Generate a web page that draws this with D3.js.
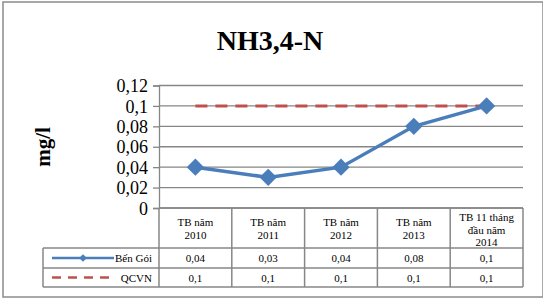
<!DOCTYPE html>
<html>
<head>
<meta charset="utf-8">
<script src="https://cdn.jsdelivr.net/npm/d3@7"></script>
<style>
  body { margin: 0; background: #fff; }
</style>
</head>
<body>
<svg id="chart"></svg>
<script>
// categories + values
const categories = [
  ['TB năm', '2010'],
  ['TB năm', '2011'],
  ['TB năm', '2012'],
  ['TB  năm', '2013'],
  ['TB 11 tháng', 'đầu năm', '2014']
];
const benGoi = [0.04, 0.03, 0.04, 0.08, 0.1];
const qcvn = [0.1, 0.1, 0.1, 0.1, 0.1];
const yTicks = [0, 0.02, 0.04, 0.06, 0.08, 0.1, 0.12];
const seriesNames = ['Bến Gói', 'QCVN'];

const width = 543, height = 298;
const plotLeft = 159, plotRight = 523, plotTop = 85.5, plotBottom = 208;
const blue = '#4a7ebb', red = '#c0504d', grid = '#868686';
const serif = '"Liberation Serif", "Times New Roman", serif';

let svg = d3.select('#chart').attr('width', width).attr('height', height)
  .style('font-family', serif);

// outer frame
svg.append('rect')
  .attr('x', 3).attr('y', 2).attr('width', 540).attr('height', 295)
  .attr('fill', 'none').attr('stroke', '#8c8c8c').attr('stroke-width', 1.5);

svg.append('text')
  .attr('x', 270).attr('y', 50)
  .attr('text-anchor', 'middle')
  .style('font-family', serif)
  .style('font-size', '28px').style('font-weight', 'bold')
  .text('NH3,4-N');

svg.append('text')
  .attr('transform', 'translate(50,147) rotate(-90)')
  .attr('text-anchor', 'middle')
  .style('font-family', serif)
  .style('font-size', '21px').style('font-weight', 'bold')
  .text('mg/l');

let x = d3.scaleBand().domain(d3.range(categories.length)).range([plotLeft, plotRight]);
let y = d3.scaleLinear().domain([0, 0.12]).range([plotBottom, plotTop]);
let fmt = d => String(+d.toFixed(2)).replace('.', ',');

// gridlines
svg.append('g').selectAll('line').data(yTicks).enter().append('line')
  .attr('x1', plotLeft).attr('x2', plotRight)
  .attr('y1', d => y(d)).attr('y2', d => y(d))
  .attr('stroke', grid).attr('stroke-width', 1.3);

// y axis
let yAxis = svg.append('g')
  .attr('transform', 'translate(' + plotLeft + ',0)')
  .call(d3.axisLeft(y).tickValues(yTicks).tickFormat(fmt).tickSize(6).tickPadding(5));
yAxis.select('.domain').attr('stroke', grid).attr('stroke-width', 1.3);
yAxis.selectAll('.tick line').attr('stroke', grid).attr('stroke-width', 1.3);
yAxis.selectAll('.tick text')
  .style('font-family', serif)
  .style('font-size', '18px').attr('fill', '#000').attr('dy', '0.34em');

// series
let cx = i => x(i) + x.bandwidth() / 2;
let line = d3.line().x((d, i) => cx(i)).y(d => y(d));

svg.append('path').datum(qcvn)
  .attr('d', line).attr('fill', 'none')
  .attr('stroke', red).attr('stroke-width', 3).attr('stroke-dasharray', '12,8');

svg.append('path').datum(benGoi)
  .attr('d', line).attr('fill', 'none')
  .attr('stroke', blue).attr('stroke-width', 3.5);

let diamond = d3.symbol().type(d3.symbolSquare).size(150);
svg.append('g').selectAll('path').data(benGoi).enter().append('path')
  .attr('d', diamond)
  .attr('transform', (d, i) => 'translate(' + cx(i) + ',' + y(d) + ') rotate(45)')
  .attr('fill', blue);

// data table
let rowY = [208, 248, 268, 287];
let tbl = svg.append('g').attr('stroke', '#878787').attr('stroke-width', 1.5);
tbl.append('line').attr('x1', plotLeft).attr('x2', plotRight).attr('y1', rowY[0]).attr('y2', rowY[0]);
tbl.append('line').attr('x1', 43).attr('x2', plotRight).attr('y1', rowY[1]).attr('y2', rowY[1]);
tbl.append('line').attr('x1', 43).attr('x2', plotRight).attr('y1', rowY[2]).attr('y2', rowY[2]);
tbl.append('line').attr('x1', 43).attr('x2', plotRight).attr('y1', rowY[3]).attr('y2', rowY[3]);
tbl.append('line').attr('x1', 43).attr('x2', 43).attr('y1', rowY[1]).attr('y2', rowY[3]);
tbl.selectAll('.vcol').data(d3.range(categories.length + 1)).enter().append('line')
  .attr('x1', i => i < categories.length ? x(i) : plotRight)
  .attr('x2', i => i < categories.length ? x(i) : plotRight)
  .attr('y1', rowY[0]).attr('y2', rowY[3]);

// header labels
categories.forEach((lines, i) => {
  let t = svg.append('text')
    .attr('text-anchor', 'middle')
    .style('font-family', serif)
    .style('font-size', '11px');
  let startY = lines.length === 3 ? 221 : 226;
  lines.forEach((s, k) => {
    t.append('tspan').attr('x', cx(i)).attr('y', startY + k * 12.5).text(s);
  });
});

// value rows
[benGoi, qcvn].forEach((vals, r) => {
  svg.append('g').selectAll('text').data(vals).enter().append('text')
    .attr('x', (d, i) => cx(i))
    .attr('y', (rowY[r + 1] + rowY[r + 2]) / 2 + 4)
    .attr('text-anchor', 'middle')
    .style('font-family', serif)
    .style('font-size', '11px')
    .text(fmt);
});

// legend keys
let ly1 = (rowY[1] + rowY[2]) / 2, ly2 = (rowY[2] + rowY[3]) / 2;
svg.append('line').attr('x1', 52).attr('x2', 114).attr('y1', ly1).attr('y2', ly1)
  .attr('stroke', blue).attr('stroke-width', 2.5);
svg.append('path').attr('d', d3.symbol().type(d3.symbolSquare).size(30))
  .attr('transform', 'translate(83,' + ly1 + ') rotate(45)').attr('fill', blue);
svg.append('line').attr('x1', 52).attr('x2', 114).attr('y1', ly2).attr('y2', ly2)
  .attr('stroke', red).attr('stroke-width', 2.5).attr('stroke-dasharray', '9,7');
seriesNames.forEach((s, r) => {
  svg.append('text')
    .attr('x', 152).attr('y', (r === 0 ? ly1 : ly2) + 4)
    .attr('text-anchor', 'end')
    .style('font-family', serif)
    .style('font-size', '11px')
    .text(s);
});
</script>
</body>
</html>
